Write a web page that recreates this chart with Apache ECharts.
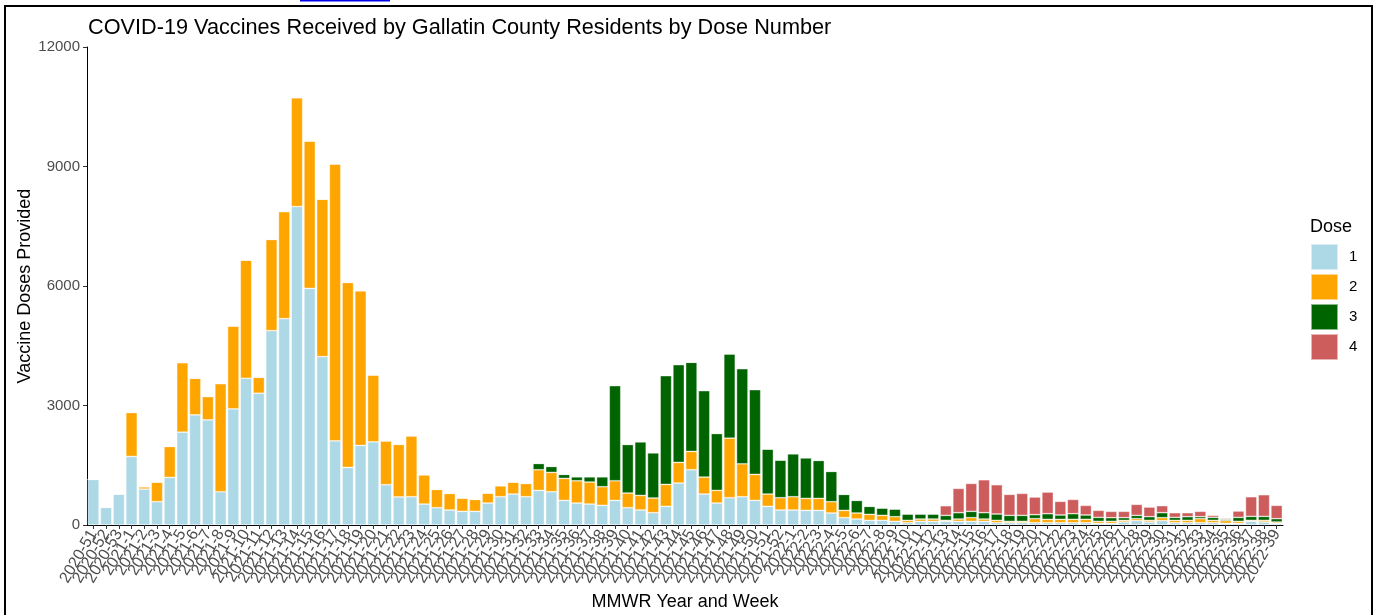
<!DOCTYPE html>
<html style="height: 100%">
<head>
<meta charset="utf-8">
<script src="https://cdn.jsdelivr.net/npm/echarts@6/dist/echarts.min.js"></script>
</head>
<body style="height: 100%; margin: 0; background: #fff">
<div id="container" style="width: 1375px; height: 615px"></div>
<script type="text/javascript">
// MMWR year-week categories
var weeks = ['2020-51','2020-52','2020-53',
  '2021-1','2021-2','2021-3','2021-4','2021-5','2021-6','2021-7','2021-8','2021-9','2021-10',
  '2021-11','2021-12','2021-13','2021-14','2021-15','2021-16','2021-17','2021-18','2021-19','2021-20',
  '2021-21','2021-22','2021-23','2021-24','2021-25','2021-26','2021-27','2021-28','2021-29','2021-30',
  '2021-31','2021-32','2021-33','2021-34','2021-35','2021-36','2021-37','2021-38','2021-39','2021-40',
  '2021-41','2021-42','2021-43','2021-44','2021-45','2021-46','2021-47','2021-48','2021-49','2021-50',
  '2021-51','2021-52',
  '2022-1','2022-2','2022-3','2022-4','2022-5','2022-6','2022-7','2022-8','2022-9','2022-10',
  '2022-11','2022-12','2022-13','2022-14','2022-15','2022-16','2022-17','2022-18','2022-19','2022-20',
  '2022-21','2022-22','2022-23','2022-24','2022-25','2022-26','2022-27','2022-28','2022-29','2022-30',
  '2022-31','2022-32','2022-33','2022-34','2022-35','2022-36','2022-37','2022-38','2022-39'];

// doses per week
var dose1 = [1144,443,777,
  1721,902,585,1195,2331,2765,2640,835,2915,3684,
  3308,4879,5179,7995,5940,4227,2113,1445,1997,2088,
  1011,705,710,526,434,376,343,343,551,710,
  777,710,869,835,618,551,526,493,618,434,
  376,309,468,1053,1387,777,551,685,710,618,
  468,376,
  376,367,367,301,184,150,117,117,92,58,
  92,92,92,92,92,92,58,58,58,58,
  58,58,58,58,42,42,75,109,75,109,
  58,58,58,58,42,42,92,75,42];
var dose2 = [0,0,0,
  1103,59,493,777,1746,919,585,2715,2081,2966,
  401,2289,2690,2732,3700,3951,6951,4645,3884,1679,
  1102,1320,1529,735,460,418,334,300,251,276,
  301,334,518,485,552,560,552,468,493,368,
  367,368,551,518,459,426,318,1495,827,652,
  309,309,
  334,301,301,284,183,151,150,125,117,59,
  58,58,25,58,92,58,59,34,34,101,
  84,84,84,84,50,50,42,50,42,75,
  59,59,101,59,67,50,25,42,33];
var dose3 = [0,0,0,
  0,0,0,0,0,0,0,0,0,0,
  0,0,0,0,0,0,0,0,0,0,
  0,0,0,0,0,0,0,0,0,0,
  0,0,158,150,100,100,133,250,2389,1220,
  1346,1136,2732,2456,2239,2172,1428,2114,2389,2130,
  1128,944,
  1078,1019,953,760,402,317,201,184,192,159,
  126,126,125,159,159,159,159,150,150,100,
  142,109,142,109,100,92,67,83,92,125,
  75,92,50,75,33,100,100,100,84];
var dose4 = [0,0,0,
  0,0,0,0,0,0,0,0,0,0,
  0,0,0,0,0,0,0,0,0,0,
  0,0,0,0,0,0,0,0,0,0,
  0,0,0,0,0,0,0,0,0,0,
  0,0,0,0,0,0,0,0,0,0,
  0,0,
  0,0,0,0,0,0,0,0,0,0,
  0,0,242,610,701,827,735,527,552,443,
  543,342,359,242,176,159,159,276,242,176,
  117,100,134,50,25,159,493,543,334];

var doseNames = ['1', '2', '3', '4'];
var doseColors = ['#ADD8E6', '#FFA500', '#006400', '#CD5C5C'];
var yTicks = [0, 3000, 6000, 9000, 12000];

var dom = document.getElementById('container');
var myChart = echarts.init(dom, null, {renderer: 'canvas'});
var font = 'Liberation Sans, Arial, sans-serif';

function makeSeries(name, values, color) {
  return {
    name: name,
    type: 'bar',
    stack: 'dose',
    barCategoryGap: '10%',
    animation: false,
    itemStyle: {color: color, borderColor: 'rgba(255,255,255,0.55)', borderWidth: 0.7},
    data: values
  };
}

var option = {
  animation: false,
  backgroundColor: '#ffffff',
  textStyle: {fontFamily: font},
  title: {
    text: 'COVID-19 Vaccines Received by Gallatin County Residents by Dose Number',
    left: 88, top: 17,
    padding: 0,
    textStyle: {fontFamily: font, fontSize: 21.7, fontWeight: 'normal', color: '#000'}
  },
  legend: {
    orient: 'vertical',
    left: 1310, top: 243,
    padding: 0,
    itemWidth: 27, itemHeight: 26, itemGap: 2,
    icon: 'rect',
    data: doseNames,
    textStyle: {fontFamily: font, fontSize: 15, color: '#000', padding: [0, 0, 0, 6]}
  },
  grid: {left: 87, right: 92, top: 47, bottom: 90, containLabel: false, outerBoundsMode: 'none'},
  xAxis: {
    type: 'category',
    data: weeks,
    name: 'MMWR Year and Week',
    nameLocation: 'middle',
    nameGap: 68,
    nameMoveOverlap: false,
    nameTextStyle: {fontFamily: font, fontSize: 18, color: '#000'},
    axisLine: {show: true, lineStyle: {color: '#000', width: 1}},
    axisTick: {show: true, alignWithLabel: true, interval: 0, length: 4, lineStyle: {color: '#333'}},
    axisLabel: {interval: 0, rotate: 60, margin: 6, fontFamily: font, fontSize: 16, color: '#4D4D4D'},
    splitLine: {show: false}
  },
  yAxis: {
    type: 'value',
    min: yTicks[0], max: yTicks[yTicks.length - 1], interval: 3000,
    name: 'Vaccine Doses Provided',
    nameLocation: 'middle',
    nameGap: 53,
    nameMoveOverlap: false,
    nameTextStyle: {fontFamily: font, fontSize: 18, color: '#000'},
    axisLine: {show: true, lineStyle: {color: '#000', width: 1}},
    axisTick: {show: true, length: 4, lineStyle: {color: '#333'}},
    axisLabel: {margin: 7, fontFamily: font, fontSize: 15, color: '#4D4D4D',
      formatter: function (v) { return String(v); }},
    splitLine: {show: false}
  },
  graphic: [
    {type: 'text', left: 1310, top: 218,
     style: {text: 'Dose', font: '18px ' + font, fill: '#000'}},
    {type: 'rect', shape: {x: 5, y: 6, width: 1367, height: 640},
     style: {fill: 'none', stroke: '#000', lineWidth: 2}},
    {type: 'rect', shape: {x: 300, y: 0, width: 90, height: 1.5},
     style: {fill: '#0000EE'}}
  ],
  series: [
    makeSeries(doseNames[0], dose1, doseColors[0]),
    makeSeries(doseNames[1], dose2, doseColors[1]),
    makeSeries(doseNames[2], dose3, doseColors[2]),
    makeSeries(doseNames[3], dose4, doseColors[3])
  ]
};

myChart.setOption(option);
</script>
</body>
</html>
